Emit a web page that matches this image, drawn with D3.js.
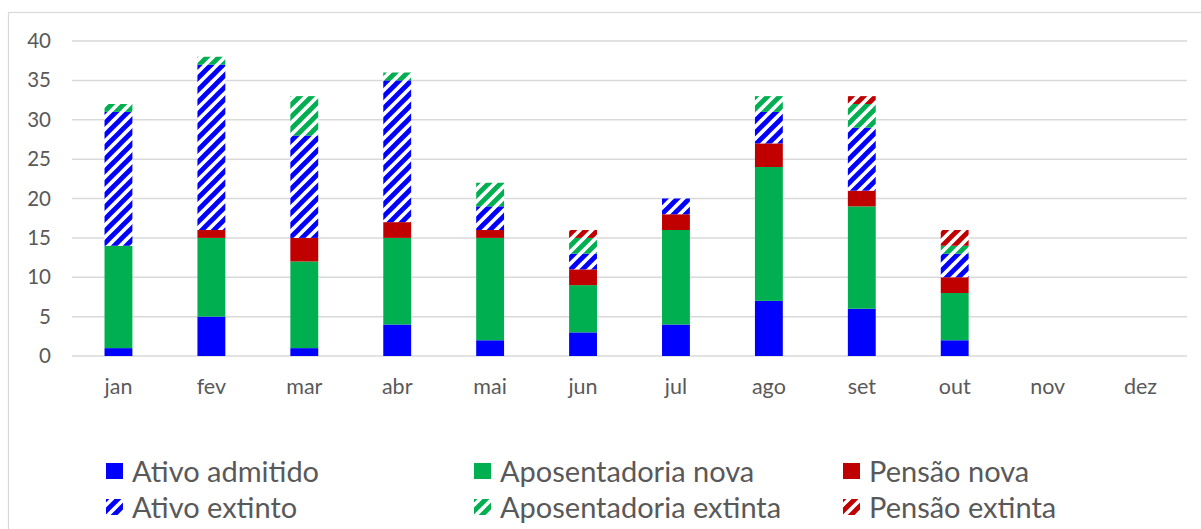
<!DOCTYPE html>
<html><head><meta charset="utf-8">
<script src="https://cdn.jsdelivr.net/npm/d3@7"></script>
<style>body{margin:0;background:#fff}svg{display:block}</style>
</head><body>
<svg id="c" width="1201" height="529"></svg>
<script>
const months = ["jan","fev","mar","abr","mai","jun","jul","ago","set","out","nov","dez"];
const ativoAdmitido        = [1, 5, 1, 4, 2, 3, 4, 7, 6, 2, 0, 0];
const aposentadoriaNova    = [13,10,11,11,13, 6,12,17,13, 6, 0, 0];
const pensaoNova           = [0, 1, 3, 2, 1, 2, 2, 3, 2, 2, 0, 0];
const ativoExtinto         = [17,21,13,18, 3, 2, 2, 4, 8, 3, 0, 0];
const aposentadoriaExtinta = [1, 1, 5, 1, 3, 2, 0, 2, 3, 1, 0, 0];
const pensaoExtinta        = [0, 0, 0, 0, 0, 1, 0, 0, 1, 2, 0, 0];
const yTicks = [0,5,10,15,20,25,30,35,40];
const seriesNames = ["Ativo admitido","Aposentadoria nova","Pensão nova","Ativo extinto","Aposentadoria extinta","Pensão extinta"];
const seriesData = [ativoAdmitido, aposentadoriaNova, pensaoNova, ativoExtinto, aposentadoriaExtinta, pensaoExtinta];
const seriesColors = ["#0000FF","#00B050","#C00000","#0000FF","#00B050","#C00000"];
const seriesHatched = [false,false,false,true,true,true];

const svg = d3.select("#c");
const font = "Lato, 'Liberation Sans', sans-serif";
const textColor = "#595959";
const gridColor = "#d9d9d9";

// patterns
const defs = svg.append("defs");
seriesColors.forEach((c,i)=>{
  if(!seriesHatched[i]) return;
  const p = defs.append("pattern").attr("id","h"+i).attr("patternUnits","userSpaceOnUse")
    .attr("width",12).attr("height",12);
  p.append("rect").attr("width",12).attr("height",12).attr("fill","#fff");
  p.append("path").attr("d","M0,12 L12,0 M-3,3 L3,-3 M9,15 L15,9")
    .attr("stroke",c).attr("stroke-width",4.8);
});

// outer border
svg.append("rect").attr("x",8.5).attr("y",12.5).attr("width",1200).attr("height",530)
  .attr("fill","none").attr("stroke",gridColor).attr("stroke-width",1.2);

const x = d3.scaleBand().domain(months).range([72,1187]).paddingInner(0.7).paddingOuter(0.35);
const y = d3.scaleLinear().domain([0,40]).range([356,41]);

// gridlines
svg.append("g").selectAll("line").data(yTicks).join("line")
  .attr("x1",72).attr("x2",1187).attr("y1",d=>y(d)).attr("y2",d=>y(d))
  .attr("stroke",gridColor).attr("stroke-width",1.5);

// y axis
const yAxis = svg.append("g").attr("transform","translate(72,0)")
  .call(d3.axisLeft(y).tickValues(yTicks).tickSize(0).tickPadding(21));
yAxis.select(".domain").remove();
yAxis.selectAll("text").attr("font-family",font).attr("font-size",20.5).attr("fill",textColor);

// x axis
const xAxis = svg.append("g").attr("transform","translate(0,356)")
  .call(d3.axisBottom(x).tickSize(0).tickPadding(23));
xAxis.select(".domain").remove();
xAxis.selectAll("text").attr("font-family",font).attr("font-size",21.5).attr("fill",textColor);

// stacked bars
const table = months.map((m,i)=>{ const o={month:m}; seriesNames.forEach((s,k)=>o[s]=seriesData[k][i]); return o; });
const stack = d3.stack().keys(seriesNames)(table);
stack.forEach((layer,k)=>{
  svg.append("g").selectAll("rect").data(layer.filter(d=>d[1]>d[0])).join("rect")
    .attr("x",d=>x(d.data.month)).attr("width",x.bandwidth())
    .attr("y",d=>y(d[1])).attr("height",d=>y(d[0])-y(d[1]))
    .attr("fill",seriesHatched[k]?`url(#h${k})`:seriesColors[k]);
});

// legend
const legX = [106,474,843];
const legY = [463,499];
seriesNames.forEach((s,k)=>{
  const col = k%3, row = Math.floor(k/3);
  const g = svg.append("g").attr("transform",`translate(${legX[col]},${legY[row]})`);
  g.append("rect").attr("width",17).attr("height",16)
    .attr("fill",seriesHatched[k]?`url(#h${k})`:seriesColors[k]);
  g.append("text").attr("x",26).attr("y",19).text(s)
    .attr("font-family",font).attr("font-size",29).attr("fill",textColor);
});
</script>
</body></html>
